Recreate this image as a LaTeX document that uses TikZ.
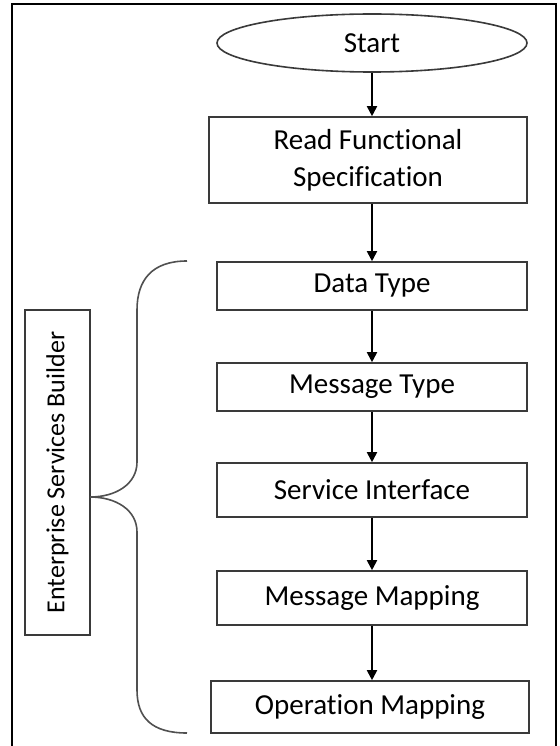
\documentclass[tikz,border=0pt]{standalone}
\usepackage{fontspec}
\setmainfont{Carlito}[Ligatures={NoCommon}]
\usetikzlibrary{arrows.meta,shapes.geometric}
\definecolor{boxline}{HTML}{3A3A3A}
\definecolor{braceline}{HTML}{505050}
\begin{document}
\begin{tikzpicture}[x=1pt,y=-1pt,
  every node/.style={font=\fontsize{29}{37}\selectfont, text=black},
  stepbox/.style={draw=boxline, line width=1.6pt, rectangle, align=center, inner sep=0pt},
  arr/.style={draw=black, line width=1.8pt, -{Triangle[length=10pt,width=10pt]}},
]
\useasboundingbox (0,0) rectangle (559,746);
\fill[white] (0,0) rectangle (559,746);
% frame
\draw[line width=2.2pt, black] (12,746) -- (12,4) -- (556,4) -- (556,746);

\node[stepbox, ellipse, minimum width=310, minimum height=58] (start) at (372,43) {Start};
\node[stepbox, minimum width=318, minimum height=86] (read) at (368,160) {Read Functional\\Specification};
\node[stepbox, minimum width=310, minimum height=48] (dt) at (372,286) {Data Type};
\node[stepbox, minimum width=310, minimum height=48] (mt) at (372,387) {Message Type};
\node[stepbox, minimum width=310, minimum height=54] (si) at (372,490) {Service Interface};
\node[stepbox, minimum width=310, minimum height=54] (mm) at (372,598) {Message Mapping};
\node[stepbox, minimum width=318, minimum height=52] (om) at (370,707) {Operation Mapping};

\node[stepbox, rotate=90, minimum width=325, minimum height=65, font=\fontsize{26}{30}\selectfont] (esb) at (57.5,472.5) {Enterprise Services Builder};

\draw[arr] (start.south) -- (start.south |- read.north);
\draw[arr] (read.south -| start.south) -- (start.south |- dt.north);
\draw[arr] (dt.south) -- (dt.south |- mt.north);
\draw[arr] (mt.south) -- (mt.south |- si.north);
\draw[arr] (si.south) -- (si.south |- mm.north);
\draw[arr] (mm.south) -- (mm.south |- om.north);

% brace
\draw[braceline, line width=1.6pt]
  (187,261) .. controls (152,261) and (137,280) .. (137,310)
  -- (137,462) .. controls (137,484) and (116,497) .. (90,497)
  .. controls (116,497) and (137,510) .. (137,532)
  -- (137,690) .. controls (137,718) and (152,733) .. (187,733);
\end{tikzpicture}
\end{document}
